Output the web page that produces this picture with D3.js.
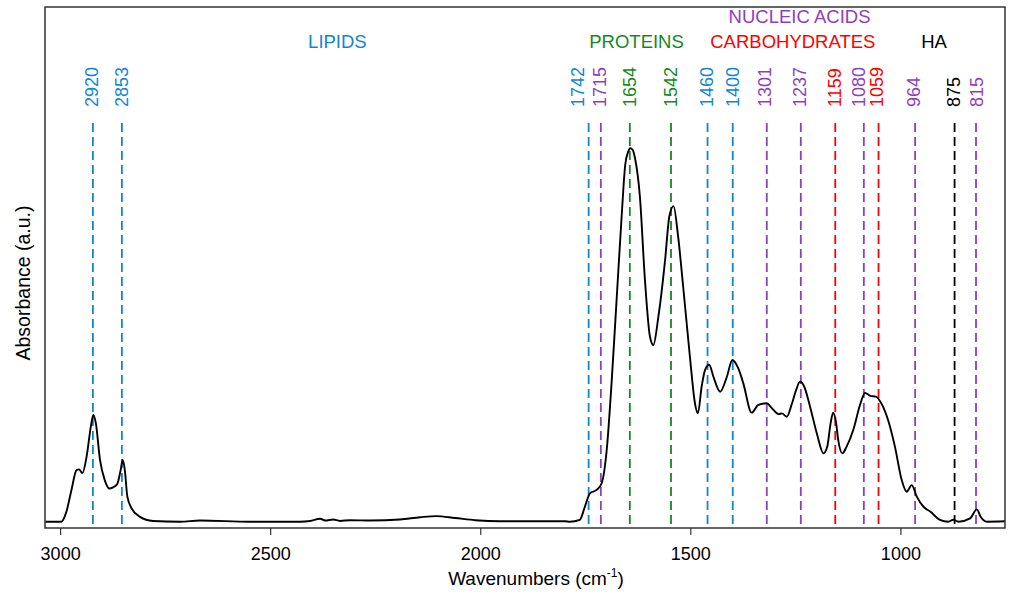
<!DOCTYPE html>
<html>
<head>
<meta charset="utf-8">
<script src="https://cdn.jsdelivr.net/npm/d3@7"></script>
<style>
  body { margin: 0; background: #fff; }
  text { font-family: "Liberation Sans", Arial, sans-serif; }
</style>
</head>
<body>
<svg id="chart" width="1010" height="595"></svg>
<script>
// spectrum: wavenumber (cm-1) and absorbance (a.u.)
const wavenumbers = [
  3036, 2997, 2985, 2973, 2961, 2955, 2947, 2937, 2927, 2921, 2915, 2905, 2894, 2883, 2874,
  2864, 2856, 2851, 2846, 2840, 2830, 2810, 2779, 2715, 2667, 2548, 2429, 2405, 2381, 2369,
  2350, 2334, 2310, 2262, 2191, 2143, 2105, 2060, 2012, 1953, 1858, 1798, 1787, 1763, 1751,
  1739, 1723, 1711, 1699, 1687, 1675, 1663, 1655, 1648, 1643, 1637, 1632, 1620, 1608, 1596, 1588, 1576,
  1560, 1550, 1540, 1529, 1517, 1501, 1489, 1482, 1473, 1465, 1455, 1445, 1429, 1413, 1400,
  1386, 1374, 1354, 1338, 1318, 1306, 1290, 1282, 1270, 1259, 1248, 1239, 1229, 1215, 1199,
  1183, 1174, 1166, 1160, 1153, 1148, 1138, 1128, 1112, 1096, 1084, 1072, 1058, 1045, 1029,
  1013, 997, 985, 973, 961, 945, 929, 906, 886, 874, 862, 834, 818, 809, 794, 751
];
const absorbance = [
  0, 0, 0.027, 0.085, 0.138, 0.140, 0.130, 0.174, 0.254, 0.286, 0.264, 0.165, 0.112, 0.089, 0.092,
  0.101, 0.138, 0.165, 0.138, 0.067, 0.036, 0.013, 0.002, 0, 0.003, 0, 0, 0.002, 0.008, 0.003,
  0.006, 0.002, 0.004, 0.003, 0.006, 0.012, 0.015, 0.010, 0.004, 0.001, 0.001, 0.001, 0, 0.005, 0.040,
  0.076, 0.085, 0.103, 0.192, 0.379, 0.603, 0.826, 0.955, 0.990, 1.0, 0.995, 0.975, 0.870, 0.647, 0.495, 0.473, 0.549,
  0.701, 0.817, 0.845, 0.763, 0.629, 0.442, 0.317, 0.290, 0.362, 0.406, 0.420, 0.388, 0.348, 0.388, 0.433,
  0.411, 0.371, 0.292, 0.313, 0.317, 0.304, 0.288, 0.290, 0.281, 0.313, 0.353, 0.375, 0.362, 0.308, 0.237,
  0.183, 0.201, 0.264, 0.292, 0.264, 0.219, 0.183, 0.201, 0.246, 0.313, 0.345, 0.337, 0.335, 0.316, 0.271,
  0.201, 0.112, 0.080, 0.098, 0.067, 0.040, 0.027, 0.005, 0, 0.005, 0, 0.009, 0.033, 0.013, 0, 0.001
];

// band markers: label text, where the dashed line sits, where its label sits, and its group
const bandLabels = ["2920", "2853", "1742", "1715", "1654", "1542", "1460", "1400", "1301",
  "1237", "1159", "1080", "1059", "964", "875", "815"];
const bandPos = [2922, 2853, 1742, 1713, 1644, 1546, 1459, 1399, 1318,
  1237, 1155, 1087, 1052, 965, 871, 820];
const bandLabelPos = [2925, 2853, 1767, 1715, 1644, 1546, 1461, 1400, 1322,
  1240, 1157, 1100, 1057, 969, 873, 819];
const bandGroup = ["lipid", "lipid", "lipid", "nucleic", "protein", "protein", "lipid", "lipid", "nucleic",
  "nucleic", "carb", "nucleic", "carb", "nucleic", "ha", "nucleic"];

const groupNames = ["LIPIDS", "PROTEINS", "NUCLEIC ACIDS", "CARBOHYDRATES", "HA"];
const groupKeys = ["lipid", "protein", "nucleic", "carb", "ha"];
const groupLabelPos = [2340, 1628, 1240, 1256, 920];
const groupLabelRow = [1, 1, 0, 1, 1];

const xTicks = [3000, 2500, 2000, 1500, 1000];

const colors = {
  lipid: "#0f86d8",
  protein: "#138a1c",
  nucleic: "#8e3ec2",
  carb: "#ff0000",
  ha: "#000000"
};

const svg = d3.select("#chart");
const plot = { left: 45, right: 1005, top: 7, bottom: 528 };

const x = d3.scaleLinear().domain([3036, 751]).range([plot.left, plot.right]);
const y = d3.scaleLinear().domain([-0.0169, 1.378]).range([plot.bottom, plot.top]);

// dashed band lines
svg.append("g")
  .selectAll("line")
  .data(bandPos)
  .join("line")
  .attr("x1", d => x(d)).attr("x2", d => x(d))
  .attr("y1", 123).attr("y2", plot.bottom)
  .attr("stroke", (d, i) => colors[bandGroup[i]])
  .attr("stroke-width", 1.8)
  .attr("stroke-dasharray", "9 5");

// rotated band numbers
svg.append("g")
  .selectAll("text")
  .data(bandLabelPos)
  .join("text")
  .attr("transform", d => `translate(${x(d)},107) rotate(-90)`)
  .attr("dy", "0.35em")
  .attr("font-size", 18)
  .attr("fill", (d, i) => colors[bandGroup[i]])
  .text((d, i) => bandLabels[i]);

// group names
svg.append("g")
  .selectAll("text")
  .data(groupNames)
  .join("text")
  .attr("x", (d, i) => x(groupLabelPos[i]))
  .attr("y", (d, i) => groupLabelRow[i] === 0 ? 23 : 48)
  .attr("text-anchor", "middle")
  .attr("font-size", 18.5)
  .attr("fill", (d, i) => colors[groupKeys[i]])
  .text(d => d);

// spectrum
const spectrum = wavenumbers.map((w, i) => ({ w, a: absorbance[i] }));
const line = d3.line()
  .x(d => x(d.w))
  .y(d => y(d.a))
  .curve(d3.curveMonotoneX);

svg.append("path")
  .datum(spectrum)
  .attr("fill", "none")
  .attr("stroke", "#000")
  .attr("stroke-width", 1.9)
  .attr("stroke-linejoin", "round")
  .attr("d", line);

// frame
svg.append("rect")
  .attr("x", plot.left).attr("y", plot.top)
  .attr("width", plot.right - plot.left)
  .attr("height", plot.bottom - plot.top)
  .attr("fill", "none")
  .attr("stroke", "#333")
  .attr("stroke-width", 1.5);

// x axis
const xAxis = d3.axisBottom(x).tickValues(xTicks).tickFormat(d3.format("d"))
  .tickSize(7).tickPadding(12);
const gx = svg.append("g")
  .attr("transform", `translate(0,${plot.bottom})`)
  .call(xAxis);
gx.select(".domain").remove();
gx.selectAll(".tick line").attr("stroke", "#333").attr("stroke-width", 1.2);
gx.selectAll(".tick text")
  .attr("font-size", 18)
  .attr("font-family", "Liberation Sans, Arial, sans-serif")
  .attr("fill", "#000");

// axis titles
const xt = svg.append("text")
  .attr("x", 536).attr("y", 585)
  .attr("text-anchor", "middle")
  .attr("font-size", 19);
xt.append("tspan").text("Wavenumbers (cm");
xt.append("tspan").attr("font-size", 12).attr("dy", -8).text("-1");
xt.append("tspan").attr("dy", 8).text(")");

svg.append("text")
  .attr("transform", "translate(30,283) rotate(-90)")
  .attr("text-anchor", "middle")
  .attr("font-size", 19.5)
  .text("Absorbance (a.u.)");
</script>
</body>
</html>
